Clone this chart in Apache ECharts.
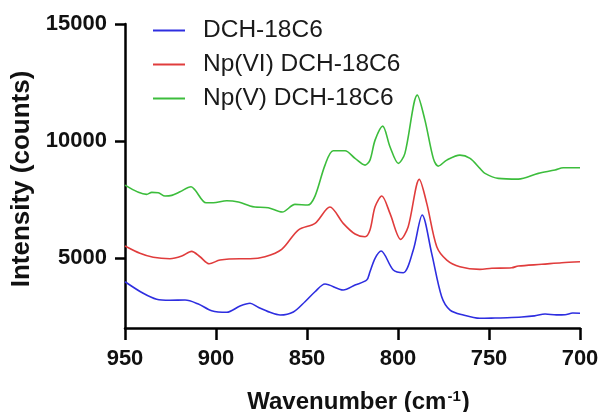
<!DOCTYPE html>
<html>
<head>
<meta charset="utf-8">
<script src="https://cdn.jsdelivr.net/npm/echarts@6/dist/echarts.min.js"></script>
<style>html,body{margin:0;padding:0;background:#fff}#c{width:601px;height:412px}</style>
</head>
<body>
<div id="c"></div>
<script>
const seriesNames = ['DCH-18C6', 'Np(VI) DCH-18C6', 'Np(V) DCH-18C6'];
const yTicks = [5000, 10000, 15000];

const dch = [
  [950,3979],[940,3483],[932.6,3227],[925.3,3184],[917,3197],[909.7,3026],[902.4,2739],[894.1,2671],
  [886.8,2940],[881.3,3056],[876.8,2885],[870.3,2671],[864.8,2556],[857.5,2684],[851.1,3124],[845.6,3551],
  [840.1,3881],[830.1,3624],[823.6,3838],[817.2,4052],[815.4,4406],[812.6,4979],[809.3,5291],[802.6,4479],
  [797.1,4364],[791.6,5334],[786.7,6830],[781.5,5193],[776,3338],[771.4,2769],[764.1,2556],[755,2415],
  [746.7,2427],[740,2440],[732,2470],[725,2520],[719.2,2598],[713,2560],[708.2,2568],[704,2640],[700,2628]
];
const npVI = [
  [950,5505],[941.8,5193],[934.5,5022],[925.3,4962],[918.8,5077],[913.4,5278],[908.8,5047],[903.7,4748],
  [897.8,4906],[886.8,4962],[881.3,4962],[873.1,5047],[863.9,5364],[854.8,6189],[845.6,6475],[837.4,7172],
  [830.1,6475],[823.6,6018],[818.1,5902],[815.4,6189],[812.6,7184],[808.9,7642],[804.4,6902],[798.5,5791],
  [794.4,6330],[788.3,8355],[784.2,7330],[778.7,5475],[773.2,4906],[766,4620],[755,4509],[748.5,4552],
  [737.5,4577],[733.9,4650],[721,4723],[710,4791],[700,4834]
];
const npV = [
  [950,8112],[938.1,7714],[935.3,7800],[931.7,7783],[928,7642],[924.3,7672],[919.8,7825],[913.7,8039],
  [911.5,7898],[905.5,7355],[901.5,7355],[894.1,7441],[887.7,7385],[881.3,7214],[878.6,7172],[871.3,7142],
  [863.6,6958],[856.6,7287],[849.6,7257],[845.6,7642],[840.1,8967],[835.6,9578],[829.1,9578],[823.6,9253],
  [818.1,8967],[815.4,9180],[812.6,10035],[808.4,10633],[804.4,9749],[799.8,9039],[796.2,9467],[789.4,11958],
  [785.2,10890],[780.6,9253],[777.9,8924],[773.2,9180],[766,9394],[760.4,9253],[755,8826],[752.2,8612],
  [744.9,8398],[733.9,8368],[722.9,8612],[713.7,8753],[709.2,8851],[700,8851]
];
const colors = ['#2e2ee0', '#e03c3c', '#3cbd3c'];

const chart = echarts.init(document.getElementById('c'));
const font = 'Liberation Sans, Arial, sans-serif';
chart.setOption({
  animation: false,
  textStyle: { fontFamily: font },
  grid: { left: 125, right: 21, top: 24, bottom: 84, containLabel: false, outerBoundsMode: 'none' },
  legend: {
    orient: 'vertical', left: 148, top: 13, itemWidth: 32, itemHeight: 2, itemGap: 9,
    icon: 'rect',
    textStyle: { fontSize: 24.5, color: '#1a1a1a', fontFamily: font, padding: [0, 0, 0, 13] },
    data: seriesNames
  },
  xAxis: {
    type: 'value', inverse: true, min: 700, max: 950, interval: 50,
    name: 'Wavenumber (cm{sup|-1})', nameLocation: 'middle', nameGap: 61,
    nameTextStyle: { fontSize: 24, fontWeight: 'bold', color: '#111', fontFamily: font, padding: [0, 0, 0, 12],
      rich: { sup: { fontSize: 15, fontWeight: 'bold', color: '#111', fontFamily: font, verticalAlign: 'top', padding: [0, 1, 12, 1] } } },
    axisLine: { show: true, onZero: false, lineStyle: { color: '#000', width: 2.5 } },
    axisTick: { show: true, inside: false, length: 12, lineStyle: { color: '#000', width: 2.5 } },
    axisLabel: { fontSize: 22, fontWeight: 'bold', color: '#111', margin: 20 },
    splitLine: { show: false }
  },
  yAxis: {
    type: 'value', min: 2000, max: 15000,
    name: 'Intensity (counts)', nameLocation: 'middle', nameGap: 88,
    nameTextStyle: { fontSize: 26, fontWeight: 'bold', color: '#111', fontFamily: font, padding: [0, 6, 0, 0] },
    axisLine: { show: true, onZero: false, lineStyle: { color: '#000', width: 2.5 } },
    axisTick: { show: true, length: 10, customValues: yTicks, lineStyle: { color: '#000', width: 2.5 } },
    axisLabel: { fontSize: 22, fontWeight: 'bold', color: '#111', margin: 18, customValues: yTicks,
      formatter: function (v) { return String(v); } },
    splitLine: { show: false }
  },
  series: [
    { name: seriesNames[0], type: 'line', data: dch, showSymbol: false, smooth: 0.3, color: colors[0], lineStyle: { width: 1.6 } },
    { name: seriesNames[1], type: 'line', data: npVI, showSymbol: false, smooth: 0.3, color: colors[1], lineStyle: { width: 1.6 } },
    { name: seriesNames[2], type: 'line', data: npV, showSymbol: false, smooth: 0.3, color: colors[2], lineStyle: { width: 1.6 } }
  ]
});
</script>
</body>
</html>
